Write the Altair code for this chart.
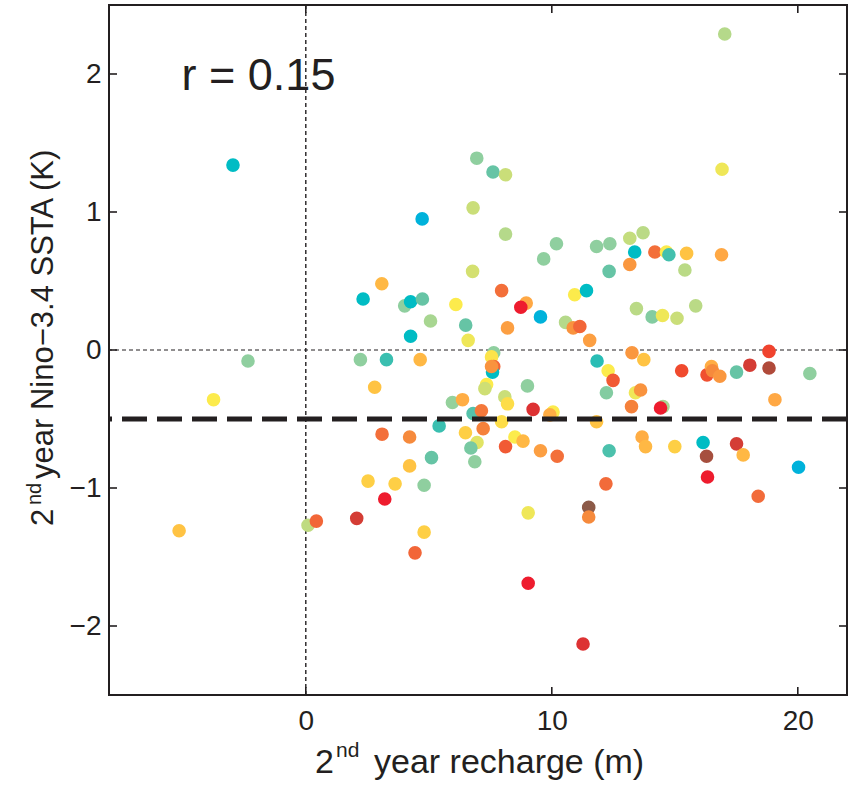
import altair as alt
import pandas as pd

# Second-year recharge (m) against second-year Nino-3.4 SSTA (K), one dot per event
recharge = [
    -2.96, -2.35, -3.75, -5.15, 0.09, 0.43, 2.07, 3.21, 4.81, 4.44,
    2.53, 3.63, 4.22, 4.81, 5.11, 3.10, 4.22, 5.42, 2.80, 2.22,
    3.28, 4.65, 4.26, 6.60, 5.96, 6.37, 4.73, 6.80, 6.95, 6.78,
    3.09, 2.33, 4.02, 4.26, 4.74, 5.07, 6.10, 6.50, 7.61, 8.12,
    8.12, 10.19, 9.67, 11.82, 12.36, 13.17, 13.71, 13.37, 14.19, 14.66,
    14.76, 15.48, 16.90, 13.17, 12.33, 15.41, 7.96, 10.93, 11.41, 8.96,
    8.74, 9.54, 13.44, 15.85, 14.08, 14.50, 15.09, 10.56, 10.87, 11.14,
    8.20, 11.54, 17.03, 16.92, 18.83, 13.26, 13.74, 11.84, 12.29, 12.49,
    7.64, 7.55, 7.64, 7.59, 7.55, 7.35, 7.28, 9.01, 8.09, 8.20,
    6.80, 7.14, 9.24, 10.05, 9.92, 7.21, 7.96, 6.49, 6.96, 6.71,
    6.87, 8.12, 8.50, 8.83, 9.54, 10.22, 12.22, 13.40, 13.61, 13.24,
    14.52, 14.42, 15.28, 16.31, 16.49, 16.53, 16.83, 17.51, 18.05, 18.83,
    20.49, 19.07, 11.82, 13.67, 13.81, 15.00, 16.15, 16.29, 16.33, 17.51,
    17.78, 20.03, 18.39, 12.33, 12.20, 9.04, 11.50, 11.50, 9.04, 11.27,
]
ssta = [
    1.34, -0.08, -0.36, -1.31, -1.27, -1.24, -1.22, -1.08, -1.32, -1.47,
    -0.95, -0.97, -0.84, -0.98, -0.78, -0.61, -0.63, -0.55, -0.27, -0.07,
    -0.07, -0.07, 0.10, 0.07, -0.38, -0.36, 0.95, 1.03, 1.39, 0.57,
    0.48, 0.37, 0.32, 0.35, 0.37, 0.21, 0.33, 0.18, 1.29, 1.27,
    0.84, 0.77, 0.66, 0.75, 0.77, 0.81, 0.85, 0.71, 0.71, 0.71,
    0.69, 0.70, 0.69, 0.62, 0.57, 0.58, 0.43, 0.40, 0.43, 0.34,
    0.31, 0.24, 0.30, 0.32, 0.24, 0.25, 0.23, 0.20, 0.16, 0.17,
    0.16, 0.07, 2.29, 1.31, -0.01, -0.02, -0.07, -0.08, -0.15, -0.22,
    -0.02, -0.05, -0.12, -0.16, -0.12, -0.25, -0.28, -0.26, -0.34, -0.39,
    -0.46, -0.44, -0.43, -0.45, -0.47, -0.57, -0.52, -0.60, -0.67, -0.71,
    -0.81, -0.70, -0.63, -0.66, -0.73, -0.77, -0.31, -0.31, -0.29, -0.41,
    -0.41, -0.42, -0.15, -0.18, -0.12, -0.15, -0.19, -0.16, -0.11, -0.13,
    -0.17, -0.36, -0.52, -0.63, -0.70, -0.70, -0.67, -0.77, -0.92, -0.68,
    -0.76, -0.85, -1.06, -0.73, -0.97, -1.18, -1.14, -1.21, -1.69, -2.13,
]
# colour index of each event (0 = brown/red end, 1 = blue end)
shade = [
    0.95, 0.76, 0.58, 0.52, 0.68, 0.32, 0.14, 0.20, 0.54, 0.32,
    0.54, 0.54, 0.52, 0.76, 0.83, 0.34, 0.40, 0.88, 0.52, 0.76,
    0.88, 0.50, 0.95, 0.60, 0.75, 0.48, 1.00, 0.66, 0.76, 0.64,
    0.50, 0.95, 0.76, 0.95, 0.83, 0.72, 0.58, 0.83, 0.83, 0.66,
    0.70, 0.76, 0.76, 0.76, 0.76, 0.67, 0.69, 0.95, 0.34, 0.58,
    0.87, 0.52, 0.47, 0.43, 0.83, 0.69, 0.34, 0.58, 0.95, 0.47,
    0.20, 1.00, 0.69, 0.69, 0.78, 0.60, 0.66, 0.70, 0.42, 0.32,
    0.45, 0.45, 0.70, 0.60, 0.26, 0.43, 0.52, 0.90, 0.58, 0.30,
    0.76, 0.57, 0.32, 0.95, 0.42, 0.58, 0.65, 0.76, 0.66, 0.56,
    0.85, 0.36, 0.16, 0.58, 0.48, 0.38, 0.56, 0.54, 0.62, 0.80,
    0.76, 0.30, 0.58, 0.50, 0.45, 0.34, 0.78, 0.60, 0.42, 0.38,
    0.72, 0.20, 0.27, 0.28, 0.48, 0.40, 0.43, 0.83, 0.14, 0.07,
    0.76, 0.47, 0.52, 0.48, 0.50, 0.54, 0.95, 0.05, 0.20, 0.14,
    0.50, 1.00, 0.33, 0.86, 0.33, 0.60, 0.00, 0.40, 0.20, 0.16,
]

x_ticks = [0, 10, 20]
y_ticks = [-2, -1, 0, 1, 2]
threshold = -0.5
r_label = "r = 0.15"

stops = [0, 0.07, 0.14, 0.2, 0.27, 0.33, 0.4, 0.47, 0.53, 0.58,
         0.64, 0.7, 0.76, 0.83, 0.9, 0.95, 1.0]
palette = ["#8C5A48", "#B04A3A", "#D43D35", "#EE1C2E", "#F04A2E", "#F26B3A",
           "#F68A3C", "#FFA844", "#FFC843", "#FCEB4C", "#D4E070", "#B5D98A",
           "#8FCF9F", "#66C4A5", "#29BDB5", "#00BCC4", "#00B2DB"]

INK = "#231F20"
FONT = "Liberation Sans"
W, H = 738, 690

df = pd.DataFrame({"recharge": recharge, "ssta": ssta, "shade": shade})

xs = alt.Scale(domain=[-8, 22], nice=False, zero=False)
ys = alt.Scale(domain=[-2.5, 2.5], nice=False, zero=False)

points = alt.Chart(df).mark_circle(size=185, opacity=1).encode(
    x=alt.X("recharge:Q", scale=xs,
            axis=alt.Axis(values=x_ticks, title=None, ticks=False, domain=False,
                          grid=False, labelFontSize=28, labelPadding=12,
                          labelFont=FONT, labelColor=INK, format="d")),
    y=alt.Y("ssta:Q", scale=ys,
            axis=alt.Axis(values=y_ticks, title=None, ticks=False, domain=False,
                          grid=False, labelFontSize=28, labelPadding=8,
                          labelFont=FONT, labelColor=INK, format="d")),
    color=alt.Color("shade:Q", legend=None,
                    scale=alt.Scale(domain=stops, range=palette, interpolate="rgb")),
)

zero_v = alt.Chart(pd.DataFrame({"v": [0]})).mark_rule(
    color=INK, strokeWidth=1.4, strokeDash=[4, 3]
).encode(x=alt.X("v:Q", scale=xs))

zero_h = alt.Chart(pd.DataFrame({"v": [0]})).mark_rule(
    color=INK, strokeWidth=1.2, strokeDash=[4, 3]
).encode(y=alt.Y("v:Q", scale=ys))

thresh = alt.Chart(pd.DataFrame({"v": [threshold]})).mark_rule(
    color=INK, strokeWidth=5, strokeDash=[25, 10]
).encode(y=alt.Y("v:Q", scale=ys))

r_text = alt.Chart(pd.DataFrame({"x": [-5.05], "y": [1.885], "t": [r_label]})).mark_text(
    align="left", baseline="alphabetic", fontSize=45, font=FONT, color=INK
).encode(x=alt.X("x:Q", scale=xs), y=alt.Y("y:Q", scale=ys), text="t:N")

# inward tick marks on all four sides: ticks centred on the frame, outer half clipped
xt = pd.DataFrame({"v": x_ticks})
yt = pd.DataFrame({"v": y_ticks})
tick_style = dict(color=INK, thickness=1.6, size=16, clip=True, opacity=1)
tick_bottom = alt.Chart(xt).mark_tick(orient="vertical", **tick_style).encode(
    x=alt.X("v:Q", scale=xs), y=alt.value(H))
tick_top = alt.Chart(xt).mark_tick(orient="vertical", **tick_style).encode(
    x=alt.X("v:Q", scale=xs), y=alt.value(0))
tick_left = alt.Chart(yt).mark_tick(orient="horizontal", **tick_style).encode(
    y=alt.Y("v:Q", scale=ys), x=alt.value(0))
tick_right = alt.Chart(yt).mark_tick(orient="horizontal", **tick_style).encode(
    y=alt.Y("v:Q", scale=ys), x=alt.value(W))

# axis titles with a superscript ordinal
def piece(text, x, y, size, angle=0):
    return alt.Chart(pd.DataFrame({"t": [text]})).mark_text(
        align="left", baseline="alphabetic", fontSize=size, font=FONT,
        color=INK, angle=angle
    ).encode(text="t:N", x=alt.value(x), y=alt.value(y))

x_title = [
    piece("2", 206, 768, 34),
    piece("nd", 227, 752, 21),
    piece("year recharge (m)", 265, 768, 34),
]
y_title = [
    piece("2", -56, 521, 31, 270),
    piece("nd", -68, 500, 20, 270),
    piece("year Nino\u22123.4 SSTA (K)", -56, 474, 31, 270),
]

chart = alt.layer(
    r_text, zero_v, zero_h, points, thresh,
    tick_bottom, tick_top, tick_left, tick_right,
    *x_title, *y_title,
).properties(
    width=W, height=H,
    background="white",
    autosize=alt.AutoSizeParams(type="none"),
    padding={"left": 109, "top": 5, "right": 12, "bottom": 91},
).configure_view(
    stroke=INK, strokeWidth=2
)

chart.save("out.html", embed_options={"renderer": "svg", "actions": False})
